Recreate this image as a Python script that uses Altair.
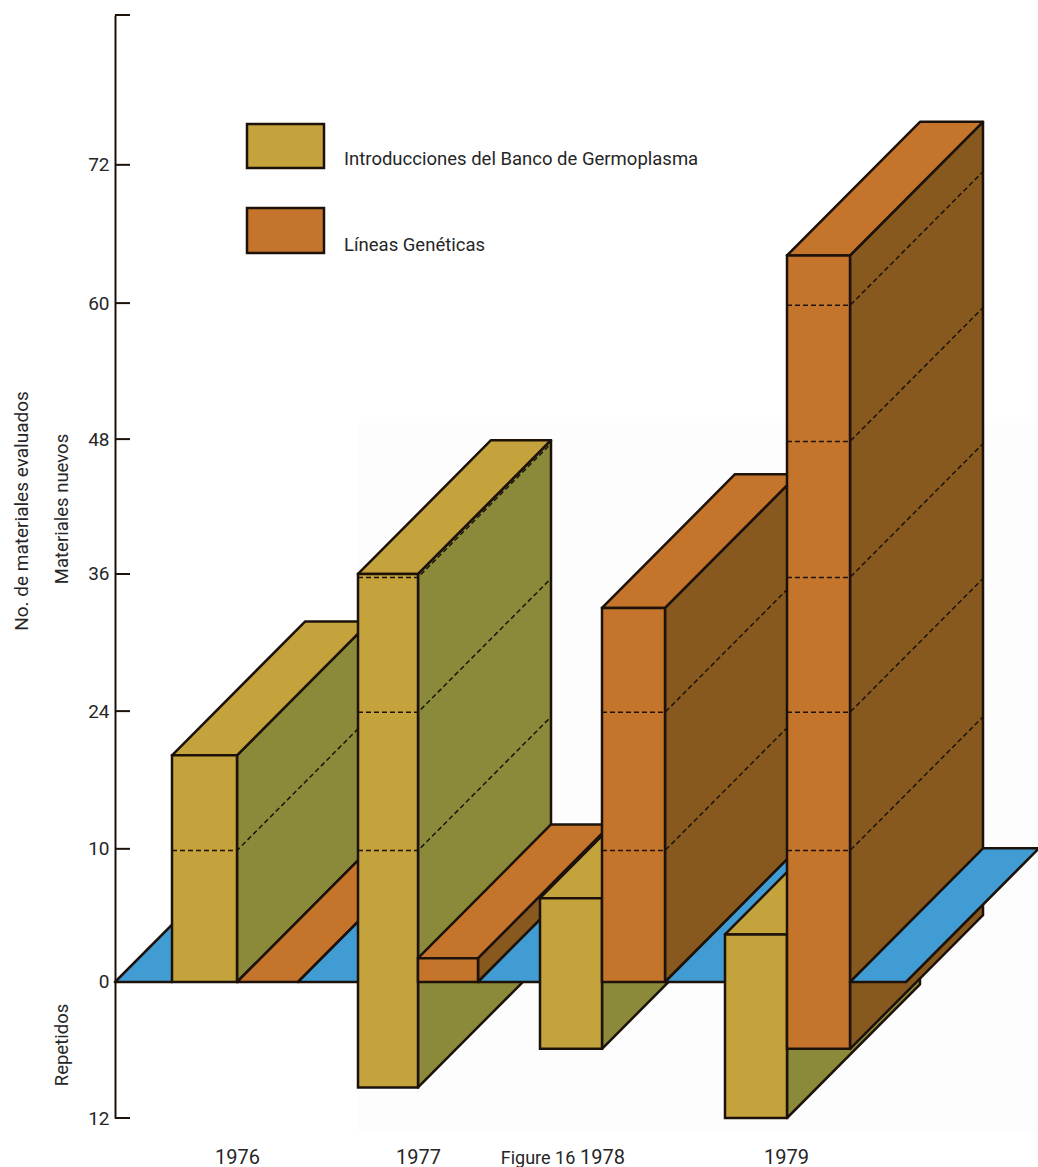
import altair as alt
import pandas as pd

# Axis ticks and their printed labels (the hand-drawn scale is slightly uneven)
tick_values = [-12, 0, 11.75, 23.9, 36, 47.9, 59.9, 72.1]
tick_labels = ["12", "0", "10", "24", "36", "48", "60", "72"]
axis_top = 85.32

# Year labels sit at the seam between the two bars of each year
years = ["1976", "1977", "1978", "1979"]
year_positions = [237, 418, 602, 786]

# Bars, left to right: series, x edges, new materials, repeated materials
bar_series = ["intro", "lineas", "intro", "lineas", "intro", "lineas", "intro", "lineas"]
bar_left = [172, 237, 358, 418, 540, 602, 725, 787]
bar_right = [237, 298, 418, 478, 602, 665, 787, 850]
bar_new = [20, 0, 36, 2.1, 7.4, 33, 4.2, 64.1]
bar_repeated = [0, 0, 9.3, 0, 5.9, 0, 12, 5.9]

# Dashed level marks drawn around the taller bars
level_values = [11.6, 23.8, 35.7, 47.7, 59.7]

# Blue floor strips, and the bar index each one is painted before
floor_left = [115, 298, 478, 665, 850]
floor_right = [172, 358, 540, 725, 906]
floor_before = [0, 2, 4, 6, 8]

DEPTH_VALUE = 11.8
DEPTH_X = 133

FRONT = {"intro": "#c4a23c", "lineas": "#c5742b"}
SIDE = {"intro": "#8a8a3a", "lineas": "#87591f"}
BLUE = "#429cd4"
INK = "#1c120a"
FONT = "Roboto"
TEXT = "#262626"

legend_labels = ["Introducciones del Banco de Germoplasma", "Líneas Genéticas"]
legend_series = ["intro", "lineas"]

x_scale = alt.Scale(domain=[115, 1038], range=[0, 923], nice=False, zero=False)
y_scale = alt.Scale(domain=[-12, axis_top], nice=False, zero=False)

year_expr = "{" + ",".join(f"'{p}':'{y}'" for p, y in zip(year_positions, years)) + "}[datum.value]"
tick_expr = "{" + ",".join(f"'{v}':'{t}'" for v, t in zip(tick_values, tick_labels)) + "}[datum.value]"

# Every layer shares the same axis definitions so they merge into one pair of axes
X = alt.X("x:Q", scale=x_scale, axis=alt.Axis(
    values=year_positions, labelExpr=year_expr, domain=False, ticks=False, grid=False,
    title=None, labelFont=FONT, labelFontSize=20, labelColor=TEXT, labelPadding=29,
))
Y = alt.Y("y:Q", scale=y_scale, axis=alt.Axis(
    values=tick_values, labelExpr=tick_expr, domainColor=INK, domainWidth=2, ticks=False,
    grid=False, title=None, labelFont=FONT, labelFontSize=19, labelColor=TEXT,
    labelPadding=6,
))

LINE = 2.5


def top_face(left, right, value, fill):
    data = pd.DataFrame({
        "y": [value, value + DEPTH_VALUE],
        "x": [left, left + DEPTH_X],
        "x2": [right, right + DEPTH_X],
    })
    return alt.Chart(data).mark_area(
        orient="horizontal", fill=fill, stroke=INK, strokeWidth=LINE, strokeJoin="round"
    ).encode(y=Y, x=X, x2="x2:Q")


def side_face(edge, top, bottom, fill):
    data = pd.DataFrame({
        "x": [edge, edge + DEPTH_X],
        "y": [top, top + DEPTH_VALUE],
        "y2": [bottom, bottom + DEPTH_VALUE],
    })
    return alt.Chart(data).mark_area(
        orient="vertical", fill=fill, stroke=INK, strokeWidth=LINE, strokeJoin="round"
    ).encode(x=X, y=Y, y2="y2:Q")


def front_face(left, right, top, bottom, fill):
    data = pd.DataFrame({"x": [left], "x2": [right], "y": [top], "y2": [bottom]})
    return alt.Chart(data).mark_rect(
        fill=fill, stroke=INK, strokeWidth=LINE
    ).encode(x=X, x2="x2:Q", y=Y, y2="y2:Q")


def level_lines(left, right, top):
    # Dashed level marks wrap around the front and the side of a bar
    rows = []
    for level in level_values:
        if level < top:
            rows += [
                {"x": left, "y": level, "k": level, "o": 0},
                {"x": right, "y": level, "k": level, "o": 1},
                {"x": right + DEPTH_X, "y": level + DEPTH_VALUE, "k": level, "o": 2},
            ]
    return alt.Chart(pd.DataFrame(rows)).mark_line(
        stroke=INK, strokeWidth=1.5, strokeDash=[5, 3]
    ).encode(x=X, y=Y, detail="k:N", order="o:Q")


layers = []

# Very faint paper tone behind the right part of the figure
layers.append(
    alt.Chart(pd.DataFrame({"k": [0]})).mark_rect(fill="#fdfdfd").encode(
        x=alt.value(243), x2=alt.value(923), y=alt.value(408), y2=alt.value(1117)
    )
)

# Layer that carries the real axes
base = pd.DataFrame({"x": year_positions, "y": [0, 0, 0, 0]})
layers.append(alt.Chart(base).mark_point(opacity=0).encode(x=X, y=Y))

# Tick marks point into the plot
tick_rows = pd.DataFrame({"y": tick_values + [axis_top]})
layers.append(
    alt.Chart(tick_rows).mark_rule(stroke=INK, strokeWidth=2).encode(
        y=Y, x=alt.value(0), x2=alt.value(15)
    )
)

# Bars and floor are painted left to right so each one overlaps its neighbour
for i in range(len(bar_left)):
    for f_left, f_right, before in zip(floor_left, floor_right, floor_before):
        if before == i:
            layers.append(top_face(f_left, f_right, 0, BLUE))
    left, right = bar_left[i], bar_right[i]
    top, bottom = bar_new[i], -bar_repeated[i]
    series = bar_series[i]
    if top > bottom:
        layers.append(side_face(right, top, bottom, SIDE[series]))
    layers.append(top_face(left, right, top, FRONT[series]))
    if top > bottom:
        layers.append(front_face(left, right, top, bottom, FRONT[series]))
    if top > level_values[0]:
        layers.append(level_lines(left, right, top))

layers.append(top_face(floor_left[-1], floor_right[-1], 0, BLUE))

# Legend swatches and labels
for label, series, sy, sy2, ty in zip(legend_labels, legend_series, [109, 193], [153, 238], [144, 230]):
    layers.append(
        alt.Chart(pd.DataFrame({"k": [label]})).mark_rect(
            fill=FRONT[series], stroke=INK, strokeWidth=2.5
        ).encode(x=alt.value(132), x2=alt.value(209), y=alt.value(sy), y2=alt.value(sy2))
    )
    layers.append(
        alt.Chart(pd.DataFrame({"t": [label]})).mark_text(
            align="left", baseline="middle", font=FONT, fontSize=18.5, color=TEXT
        ).encode(text="t:N", x=alt.value(229), y=alt.value(ty))
    )

# Rotated axis captions and the figure number
captions = [
    ("No. de materiales evaluados", -93, 496, 270, 19),
    ("Materiales nuevos", -53, 494, 270, 18.5),
    ("Repetidos", -53, 1030, 270, 18.5),
    ("Figure 16", 423, 1144, 0, 18),
]
for text, cx, cy, angle, size in captions:
    layers.append(
        alt.Chart(pd.DataFrame({"t": [text]})).mark_text(
            align="center", baseline="middle", font=FONT, fontSize=size,
            color=TEXT, angle=angle,
        ).encode(text="t:N", x=alt.value(cx), y=alt.value(cy))
    )

chart = alt.layer(*layers).properties(
    width=923,
    height=1103,
    padding={"left": 115, "top": 15, "right": 0, "bottom": 49},
    autosize=alt.AutoSizeParams(type="none"),
    background="white",
).configure_view(strokeWidth=0)

chart.save("out.html", embed_options={"renderer": "svg", "actions": False})
